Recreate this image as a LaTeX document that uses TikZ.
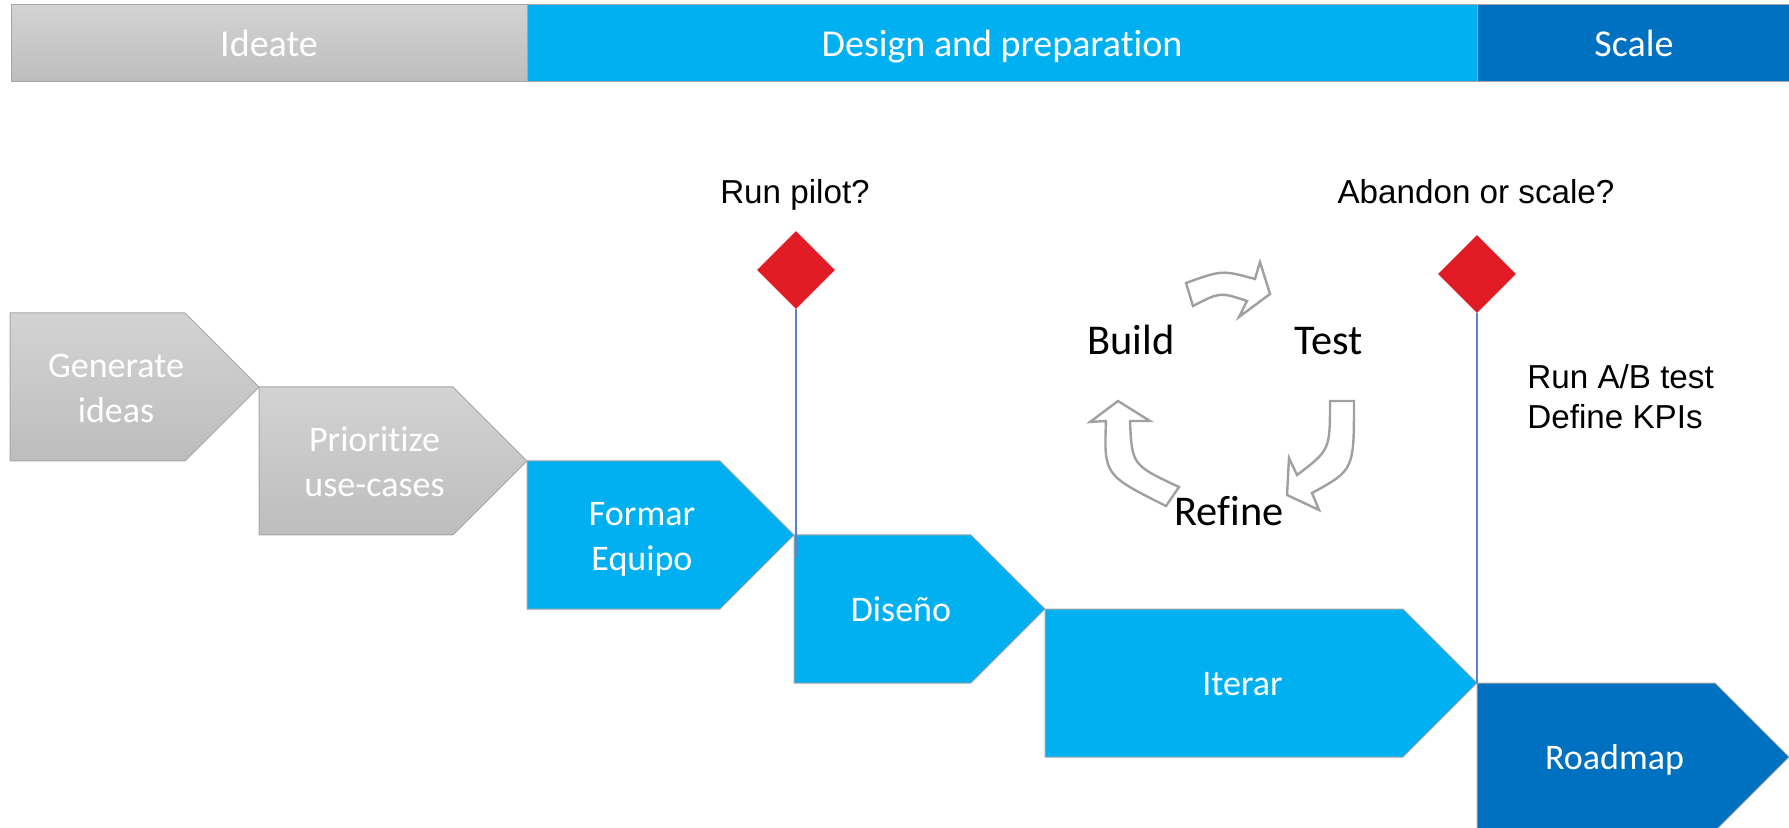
\documentclass[tikz,border=0pt]{standalone}
\usepackage{fontspec}
\usetikzlibrary{shapes.geometric}
\newfontfamily\calib[Ligatures=NoCommon]{Carlito}
\newfontfamily\arial{Liberation Sans}

\definecolor{greyTop}{HTML}{D3D3D3}
\definecolor{greyBot}{HTML}{BDBDBD}
\definecolor{edgeGrey}{HTML}{A6A6A6}
\definecolor{skyBlue}{HTML}{00B0F0}
\definecolor{deepBlue}{HTML}{0070C0}
\definecolor{flagRed}{HTML}{E01B23}
\definecolor{gateBlue}{HTML}{5B82CC}
\definecolor{cycleGrey}{HTML}{A0A0A0}

% one stage of the staircase: name, left x, tip x, top y, fill style, first baseline offset, text
\newcommand{\phasebox}[7]{%
  \path[#5] (#2,#4) -- ({#3-74},#4) -- (#3,{#4+74}) -- ({#3-74},{#4+148}) -- (#2,{#4+148}) -- cycle;
  \node[steplabel] (#1) at ({(#2+#3-37)/2},{#4+#6}) {\begin{tabular}[t]{@{}c@{}}#7\end{tabular}};
}

\begin{document}
\begin{tikzpicture}[x=0.5pt,y=-0.5pt,
  greyfill/.style={draw=edgeGrey,line width=0.5pt,top color=greyTop,bottom color=greyBot},
  skyfill/.style={draw=edgeGrey,line width=0.5pt,fill=skyBlue},
  deepfill/.style={draw=edgeGrey,line width=0.5pt,fill=deepBlue},
  steplabel/.style={anchor=base,inner sep=0pt,text=white,font=\calib\fontsize{18pt}{22.5pt}\selectfont},
  barlabel/.style={anchor=base,inner sep=0pt,text=white,font=\calib\fontsize{19pt}{23pt}\selectfont},
  question/.style={anchor=base,inner sep=0pt,font=\arial\fontsize{16.6pt}{20pt}\selectfont},
  cyclelabel/.style={anchor=base,inner sep=0pt,font=\calib\fontsize{21.2pt}{25pt}\selectfont},
  gate/.style={diamond,fill=flagRed,inner sep=0pt,minimum width=39pt,minimum height=39pt},
  gateline/.style={draw=gateBlue,line width=0.55pt},
  cyclearrow/.style={draw=cycleGrey,line width=1.2pt,fill=white,line join=miter}]

\useasboundingbox (0,0) rectangle (1789,828);
\clip (0,0) rectangle (1789,828);

% phase bar
\path[greyfill] (11,5) rectangle (527,82);
\path[skyfill] (527,5) rectangle (1477,82);
\path[deepfill] (1477,5) rectangle (1795,82);
\node[barlabel] (ideate) at (269,57) {Ideate};
\node[barlabel] (design) at (1002,57) {Design and preparation};
\node[barlabel] (scale) at (1634,57) {Scale};

% staircase of stages
\phasebox{generate}{10}{259}{313}{greyfill}{64.5}{Generate\\ideas}
\phasebox{prioritize}{259}{527}{387}{greyfill}{64.5}{Prioritize\\use-cases}
\phasebox{formar}{527}{794}{461}{skyfill}{64.5}{Formar\\Equipo}
\phasebox{diseno}{794}{1045}{535}{skyfill}{86.5}{Diseño}
\phasebox{iterar}{1045}{1477}{609}{skyfill}{86.5}{Iterar}
\phasebox{roadmap}{1477}{1789}{683}{deepfill}{86.5}{Roadmap}

% decision gates
\node[question] (qpilot) at (795,204) {Run pilot?};
\node[question] (qscale) at (1476,204) {Abandon or scale?};
\node[gate] (gpilot) at (796,270) {};
\node[gate] (gscale) at (1477,274) {};
\coordinate (pilotfoot) at (796,557);
\coordinate (scalefoot) at (1477,683);
\draw[gateline] (gpilot.south) -- (pilotfoot);
\draw[gateline] (gscale.south) -- (scalefoot);

\node[question,anchor=base west] (abtest) at (1527,389)
  {\begin{tabular}[t]{@{}l@{}}Run A/B test\\Define KPIs\end{tabular}};

% build / test / refine cycle
\node[cyclelabel] (build) at (1131,355) {Build};
\node[cyclelabel] (test) at (1329,355) {Test};
\node[cyclelabel] (refine) at (1229,525) {Refine};

\path[cyclearrow] (1186,283) .. controls (1222,270) .. (1255,279) -- (1260,262) -- (1270,294)
  -- (1239,317) -- (1247,301) .. controls (1220,292) .. (1193,306) -- cycle;
\path[cyclearrow] (1330,401) -- (1354,401) .. controls (1354,470) .. (1312,493) -- (1319,510)
  -- (1287,495) -- (1289,458) -- (1297,475) .. controls (1330,450) .. (1330,401) -- cycle;
\path[cyclearrow] (1166,506) .. controls (1104,475) .. (1106,421) -- (1090,422) -- (1118,401)
  -- (1150,421) -- (1130,421) .. controls (1132,465) .. (1179,487) -- cycle;

\end{tikzpicture}
\end{document}
